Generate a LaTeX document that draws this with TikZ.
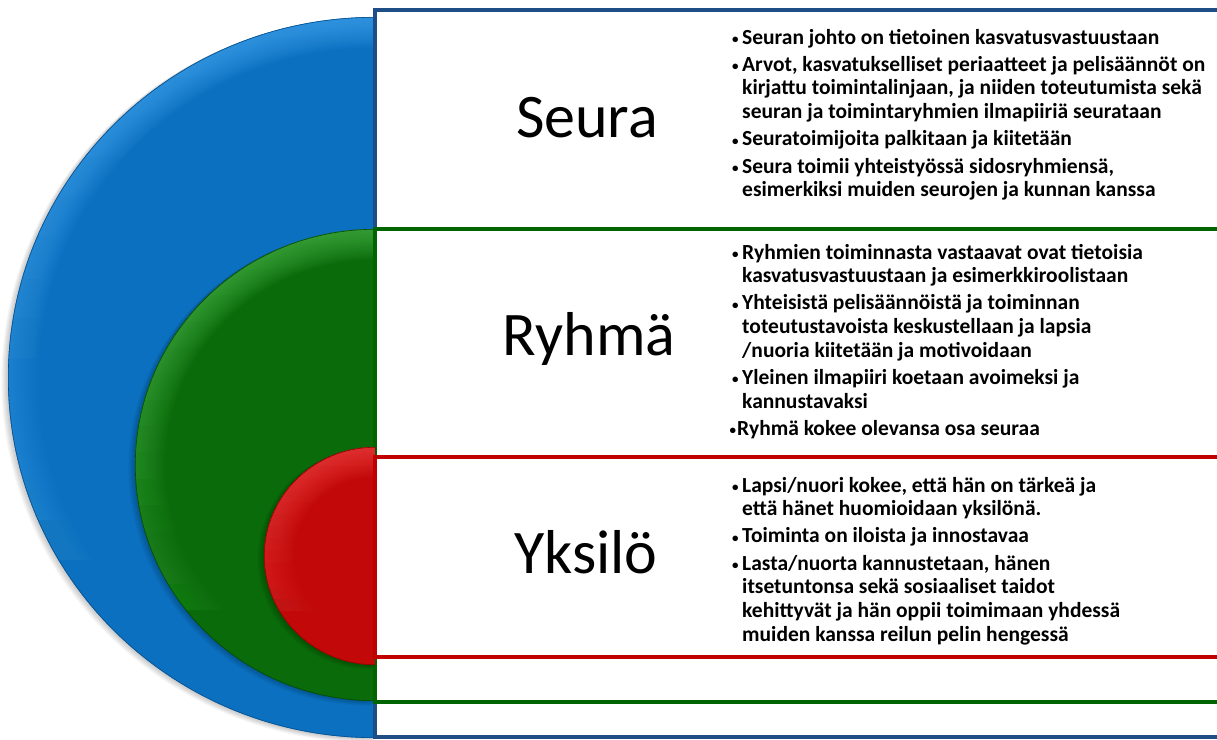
\documentclass[tikz,border=0pt]{standalone}
\usepackage{fontspec}
\setmainfont{Carlito}
\usetikzlibrary{fadings}
\definecolor{bluebase}{HTML}{0B70C0}
\definecolor{bluelight}{HTML}{45A8F2}
\definecolor{bluedark}{HTML}{08508C}
\definecolor{greenbase}{HTML}{0A6B0A}
\definecolor{greenlight}{HTML}{4DB84D}
\definecolor{greendark}{HTML}{064806}
\definecolor{redbase}{HTML}{C20808}
\definecolor{redlight}{HTML}{F24545}
\definecolor{reddark}{HTML}{8A0505}
\definecolor{blueline}{HTML}{1F4E86}
\definecolor{greenline}{HTML}{006400}
\definecolor{redline}{HTML}{C00000}
\tikzfading[name=rimfade, top color=transparent!0, middle color=transparent!80, bottom color=transparent!100]
\newcommand\halfdisk[7]{%
  \foreach \i in {1,...,6}{%
    \fill[black,opacity=0.035] (#1-\i*0.5,#2+#4+\i*0.8) arc[start angle=90,end angle=270,x radius=#3+\i*0.6,y radius=#4+\i*0.3] -- cycle;}
  \begin{scope}
    \clip (#1,#2+#4) arc[start angle=90,end angle=270,x radius=#3,y radius=#4] -- cycle;
    \fill[#5] (#1-#3-5,#2-#4-5) rectangle (#1+5,#2+#4+5);
    \foreach \w in {2,4,...,30}{%
      \fill[#6,opacity=0.07,even odd rule,path fading=rimfade]
        (#1,#2+#4) arc[start angle=90,end angle=270,x radius=#3,y radius=#4] -- cycle
        (#1,#2+#4-\w) arc[start angle=90,end angle=270,x radius=#3-\w,y radius=#4-\w] -- cycle;}
    \draw[#7,line width=1.2pt] (#1,#2+#4) arc[start angle=90,end angle=270,x radius=#3,y radius=#4];
  \end{scope}}
\newcommand\bul{\llap{{\fontsize{13}{13}\selectfont\raisebox{0.8pt}{•}}\hspace{3.5pt}}}
\newcommand\fitem{\noindent\bul}
\newcommand\nitem{\par\vspace{3.5pt}\noindent\bul}
\tikzset{
  panel/.style={fill=white,draw=#1,line width=4pt},
  title/.style={anchor=base,inner sep=0pt,font=\fontsize{62}{70}\selectfont},
  blist/.style={anchor=base west,inner sep=0pt}
}
\newcommand\listfont{\fontsize{21.5}{23.7}\selectfont\bfseries\raggedright\parindent=0pt\parskip=0pt}
\begin{document}
\begin{tikzpicture}[x=1pt,y=-1pt]
\useasboundingbox (0,0) rectangle (1217,739);
\clip (0,0) rectangle (1217,739);
\fill[white] (0,0) rectangle (1217,739);
% blue level
\halfdisk{375}{377.5}{367}{360.5}{bluebase}{bluelight}{bluedark}
\draw[panel=blueline] (375,10) rectangle (1240,737);
% green level
\halfdisk{375}{465}{240}{236}{greenbase}{greenlight}{greendark}
\draw[panel=greenline] (375,229) rectangle (1240,702);
% red level
\halfdisk{375}{556}{111}{109}{redbase}{redlight}{reddark}
\draw[panel=redline] (375,457) rectangle (1240,657);
% titles
\node[title] (seura) at (587,137) {Seura};
\node[title] (ryhma) at (589,355) {Ryhmä};
\node[title] (yksilo) at (586,573) {Yksilö};
% lists
\node[blist] (seuralist) at (742,44) {\begin{minipage}[t]{600pt}\listfont
\fitem Seuran johto on tietoinen kasvatusvastuustaan
\nitem Arvot, kasvatukselliset periaatteet ja pelisäännöt on\\
kirjattu toimintalinjaan, ja niiden toteutumista sekä\\
seuran ja toimintaryhmien ilmapiiriä seurataan
\nitem Seuratoimijoita palkitaan ja kiitetään
\nitem Seura toimii yhteistyössä sidosryhmiensä,\\
esimerkiksi muiden seurojen ja kunnan kanssa
\end{minipage}};
\node[blist] (ryhmalist) at (742,259) {\begin{minipage}[t]{600pt}\listfont
\fitem Ryhmien toiminnasta vastaavat ovat tietoisia\\
kasvatusvastuustaan ja esimerkkiroolistaan
\nitem Yhteisistä pelisäännöistä ja toiminnan\\
toteutustavoista keskustellaan ja lapsia\\
/nuoria kiitetään ja motivoidaan
\nitem Yleinen ilmapiiri koetaan avoimeksi ja\\
kannustavaksi
\par\vspace{3.5pt}\noindent\hspace*{-5pt}\llap{{\fontsize{13}{13}\selectfont\raisebox{0.8pt}{•}}\hspace{1pt}}Ryhmä kokee olevansa osa seuraa
\end{minipage}};
\node[blist] (yksilolist) at (742,492) {\begin{minipage}[t]{600pt}\listfont
\fitem Lapsi/nuori kokee, että hän on tärkeä ja\\
että hänet huomioidaan yksilönä.
\nitem Toiminta on iloista ja innostavaa
\nitem Lasta/nuorta kannustetaan, hänen\\
itsetuntonsa sekä sosiaaliset taidot\\
kehittyvät ja hän oppii toimimaan yhdessä\\
muiden kanssa reilun pelin hengessä
\end{minipage}};
\end{tikzpicture}
\end{document}
